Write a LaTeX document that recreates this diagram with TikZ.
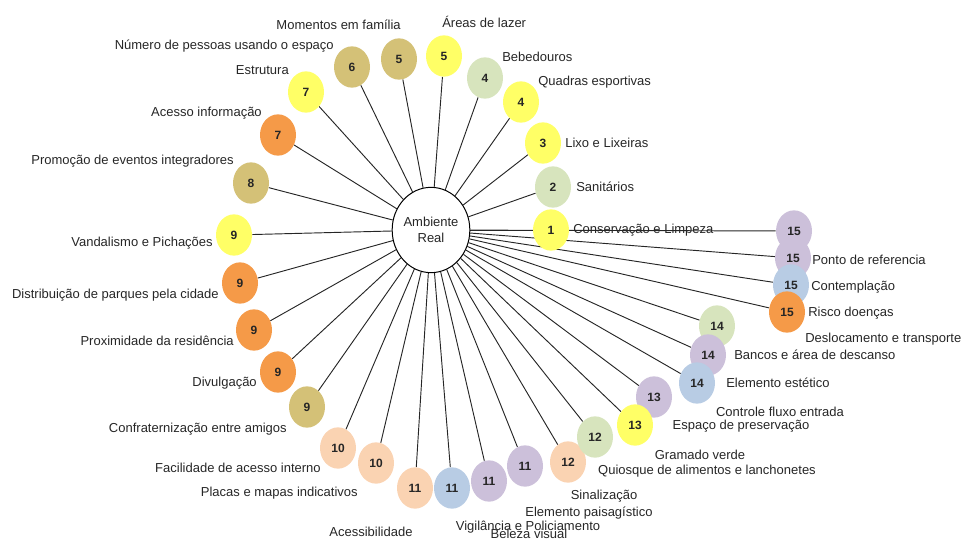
\documentclass[tikz,border=0pt]{standalone}
\usepackage{fontspec}
\setmainfont{Liberation Sans}
\usetikzlibrary{shapes.geometric,backgrounds}

\definecolor{amarelo}{HTML}{FFFF66}
\definecolor{areia}{HTML}{D4C177}
\definecolor{laranja}{HTML}{F59A48}
\definecolor{verde}{HTML}{D7E4BD}
\definecolor{pessego}{HTML}{FAD3B2}
\definecolor{azul}{HTML}{B8CCE4}
\definecolor{lilas}{HTML}{CCC0DA}

\tikzset{
	bola/.style={ellipse, fill=#1, minimum width=27pt, minimum height=31pt, inner sep=0pt,
		text=black!85, font=\fontsize{9}{10}\selectfont\bfseries},
	hub/.style={ellipse, draw, line width=0.75pt, fill=white, minimum width=58pt, minimum height=64pt,
		inner sep=0pt, align=center, text=black!85, font=\fontsize{9.75}{11.5}\selectfont},
	rotulo/.style={inner sep=0pt, text=black!85, font=\fontsize{9.75}{11}\selectfont},
	raio/.style={line width=0.7pt, black!85}
}

\begin{document}
\begin{tikzpicture}[x=0.75pt,y=-0.75pt]
		%%%%% START %%%%%
		\useasboundingbox (0,0) rectangle (964,543);
		
		\node[hub] (real) at (431,230) {Ambiente\\Real};
		
		% upper half
		\node[bola=amarelo] (a1) at (551,230) {1};
		\node[bola=verde] (a2) at (553,187) {2};
		\node[bola=amarelo] (a3) at (543,143) {3};
		\node[bola=amarelo] (a4) at (521,102) {4};
		\node[bola=verde] (a5) at (485,78) {4};
		\node[bola=amarelo] (a6) at (444,56) {5};
		\node[bola=areia] (a7) at (399,59) {5};
		\node[bola=areia] (a8) at (352,67) {6};
		\node[bola=amarelo] (a9) at (306,92) {7};
		\node[bola=laranja] (a10) at (278,135) {7};
		\node[bola=areia] (a11) at (251,183) {8};
		
		% left side
		\node[bola=amarelo] (a12) at (234,235) {9};
		\node[bola=laranja] (a13) at (240,283) {9};
		\node[bola=laranja] (a14) at (254,330) {9};
		\node[bola=laranja] (a15) at (278,372) {9};
		\node[bola=areia] (a16) at (307,407) {9};
		\node[bola=pessego] (a17) at (338,448) {10};
		\node[bola=pessego] (a18) at (376,463) {10};
		
		% bottom
		\node[bola=pessego] (a19) at (415,488) {11};
		\node[bola=azul] (a20) at (452,488) {11};
		\node[bola=lilas] (a21) at (489,481) {11};
		\node[bola=lilas] (a22) at (525,466) {11};
		\node[bola=pessego] (a23) at (568,462) {12};
		\node[bola=verde] (a24) at (595,437) {12};
		
		% right cluster, lower ones on top
		\node[bola=lilas] (a33) at (794,231) {15};
		\node[bola=lilas] (a32) at (793,258) {15};
		\node[bola=azul] (a31) at (791,285) {15};
		\node[bola=laranja] (a30) at (787,312) {15};
		\node[bola=verde] (a29) at (717,326) {14};
		\node[bola=lilas] (a28) at (708,355) {14};
		\node[bola=azul] (a27) at (697,383) {14};
		\node[bola=lilas] (a26) at (654,397) {13};
		\node[bola=amarelo] (a25) at (635,425) {13};
		
		% labels
		\node[rotulo, anchor=west] (t1) at (573,230) {Conservação e Limpeza};
		\node[rotulo, anchor=west] (t2) at (576,187) {Sanitários};
		\node[rotulo, anchor=west] (t3) at (565,143) {Lixo e Lixeiras};
		\node[rotulo, anchor=west] (t4) at (538,82) {Quadras esportivas};
		\node[rotulo, anchor=west] (t5) at (502,57) {Bebedouros};
		\node[rotulo, anchor=west] (t6) at (442,22) {Áreas de lazer};
		\node[rotulo, anchor=east] (t7) at (401,25) {Momentos em família};
		\node[rotulo, anchor=east] (t8) at (334,46) {Número de pessoas usando o espaço};
		\node[rotulo, anchor=east] (t9) at (289,70) {Estrutura};
		\node[rotulo, anchor=east] (t10) at (262,113) {Acesso informação};
		\node[rotulo, anchor=east] (t11) at (234,161) {Promoção de eventos integradores};
		\node[rotulo, anchor=east] (t12) at (213,243) {Vandalismo e Pichações};
		\node[rotulo, anchor=east] (t13) at (219,295) {Distribuição de parques pela cidade};
		\node[rotulo, anchor=east] (t14) at (234,341) {Proximidade da residência};
		\node[rotulo, anchor=east] (t15) at (257,383) {Divulgação};
		\node[rotulo, anchor=east] (t16) at (287,429) {Confraternização entre amigos};
		\node[rotulo, anchor=east] (t17) at (321,468) {Facilidade de acesso interno};
		\node[rotulo, anchor=east] (t18) at (358,493) {Placas e mapas indicativos};
		\node[rotulo] (t19) at (371,532) {Acessibilidade};
		\node[rotulo] (t20) at (528,527) {Vigilância e Policiamento};
		\node[rotulo] (t21) at (529,534) {Beleza visual};
		\node[rotulo] (t22) at (589,513) {Elemento paisagístico};
		\node[rotulo] (t23) at (604,496) {Sinalização};
		\node[rotulo] (t24) at (707,471) {Quiosque de alimentos e lanchonetes};
		\node[rotulo] (t25) at (700,455) {Gramado verde};
		\node[rotulo] (t26) at (741,426) {Espaço de preservação};
		\node[rotulo] (t27) at (780,412) {Controle fluxo entrada};
		\node[rotulo, anchor=west] (t28) at (726,383) {Elemento estético};
		\node[rotulo, anchor=west] (t29) at (734,355) {Bancos e área de descanso};
		\node[rotulo, anchor=west] (t30) at (805,339) {Deslocamento e transporte};
		\node[rotulo, anchor=west] (t31) at (808,313) {Risco doenças};
		\node[rotulo, anchor=west] (t32) at (811,287) {Contemplação};
		\node[rotulo, anchor=west] (t33) at (812,260) {Ponto de referencia};
		
		\begin{pgfonlayer}{background}
		\draw[raio] (real) -- (a1);
		\draw[raio] (real) -- (a2);
		\draw[raio] (real) -- (a3);
		\draw[raio] (real) -- (a4);
		\draw[raio] (real) -- (a5);
		\draw[raio] (real) -- (a6);
		\draw[raio] (real) -- (a7);
		\draw[raio] (real) -- (a8);
		\draw[raio] (real) -- (a9);
		\draw[raio] (real) -- (a10);
		\draw[raio] (real) -- (a11);
		\draw[raio] (real) -- (a12);
		\draw[raio] (real) -- (a13);
		\draw[raio] (real) -- (a14);
		\draw[raio] (real) -- (a15);
		\draw[raio] (real) -- (a16);
		\draw[raio] (real) -- (a17);
		\draw[raio] (real) -- (a18);
		\draw[raio] (real) -- (a19);
		\draw[raio] (real) -- (a20);
		\draw[raio] (real) -- (a21);
		\draw[raio] (real) -- (a22);
		\draw[raio] (real) -- (a23);
		\draw[raio] (real) -- (a24);
		\draw[raio] (real) -- (a25);
		\draw[raio] (real) -- (a26);
		\draw[raio] (real) -- (a27);
		\draw[raio] (real) -- (a28);
		\draw[raio] (real) -- (a29);
		\draw[raio] (real) -- (a30);
		\draw[raio] (real) -- (a31);
		\draw[raio] (real) -- (a32);
		\draw[raio] (real) -- (a33);
		\end{pgfonlayer}
		
		%%%%% END %%%%%
\end{tikzpicture}
\end{document}
